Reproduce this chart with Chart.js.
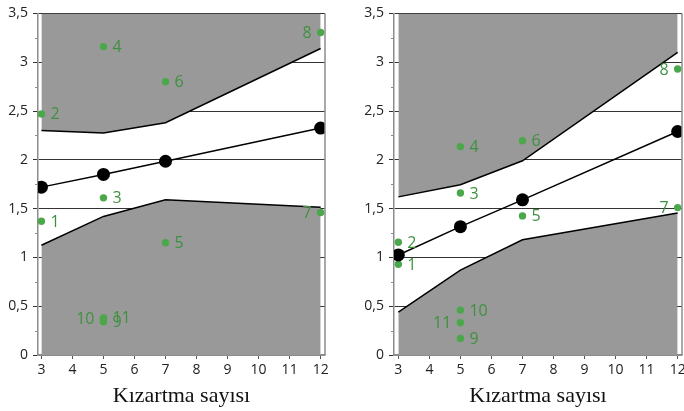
<!DOCTYPE html>
<html lang="tr">
<head>
<meta charset="UTF-8">
<title>Kızartma sayısı</title>
<script src="https://cdn.jsdelivr.net/npm/chart.js@4.4.1/dist/chart.umd.min.js"></script>
<style>
  body { margin: 0; background: #fff; }
  canvas { position: absolute; top: 0; }
  #left { left: 0; }
  #right { left: 340px; }
</style>
</head>
<body>
<canvas id="left" width="340" height="411"></canvas>
<canvas id="right" width="344" height="411"></canvas>
<script>
// ortak
const xVals = [3, 5, 7, 12];
const xTicks = [3, 4, 5, 6, 7, 8, 9, 10, 11, 12];
const pointNames = ['1', '2', '3', '4', '5', '6', '7', '8', '9', '10', '11'];
const pointX = [3, 3, 5, 5, 7, 7, 12, 12, 5, 5, 5];

// sol grafik
const leftMean = [1.72, 1.85, 1.985, 2.325];
const leftUpper = [2.30, 2.275, 2.38, 3.14];
const leftLower = [1.125, 1.42, 1.59, 1.515];
const leftPoints = [1.37, 2.47, 1.61, 3.16, 1.15, 2.80, 1.46, 3.305, 0.34, 0.375, 0.38];
const leftLabelsOnLeft = ['7', '8', '10'];

// sağ grafik
const rightMean = [1.025, 1.315, 1.59, 2.29];
const rightUpper = [1.62, 1.745, 1.99, 3.10];
const rightLower = [0.44, 0.87, 1.18, 1.455];
const rightPoints = [0.93, 1.155, 1.66, 2.135, 1.425, 2.195, 1.51, 2.93, 0.17, 0.46, 0.33];
const rightLabelsOnLeft = ['7', '8', '11'];

const GREEN = '#4aa84a';
const GREEN_TEXT = '#3f9140';
const GREY_FILL = '#999999';
const AXIS = '#8c8c8c';
const GRID = '#333333';

const xy = (xs, ys) => xs.map((x, i) => ({ x: x, y: ys[i] }));

const pointLabels = {
  id: 'pointLabels',
  afterDraw(chart, args, opts) {
    const ctx = chart.ctx;
    const meta = chart.getDatasetMeta(3);
    ctx.save();
    ctx.font = '16px "Open Sans"';
    ctx.fillStyle = GREEN_TEXT;
    ctx.textBaseline = 'middle';
    meta.data.forEach((el, i) => {
      const name = pointNames[i];
      if (opts.leftSide.includes(name)) {
        ctx.textAlign = 'right';
        ctx.fillText(name, el.x - 9, el.y + 1);
      } else {
        ctx.textAlign = 'left';
        ctx.fillText(name, el.x + 9, el.y + 1);
      }
    });
    ctx.restore();
  }
};

const frame = {
  id: 'frame',
  afterDraw(chart) {
    const { ctx, chartArea, scales } = chart;
    ctx.save();
    ctx.strokeStyle = AXIS;
    ctx.lineWidth = 1.5;
    ctx.beginPath();
    ctx.moveTo(chartArea.right, chartArea.top);
    ctx.lineTo(chartArea.right, chartArea.bottom);
    ctx.stroke();
    // küçük çentikler
    ctx.lineWidth = 1;
    const y = scales.y;
    for (let v = 0.25; v < 3.5; v += 0.5) {
      const py = Math.round(y.getPixelForValue(v)) + 0.5;
      ctx.beginPath();
      ctx.moveTo(chartArea.left - 3, py);
      ctx.lineTo(chartArea.left, py);
      ctx.stroke();
    }
    ctx.restore();
  }
};

function makeChart(id, mean, upper, lower, pts, leftSide, yWidth, padRight, xMin, xMax) {
  new Chart(document.getElementById(id), {
    type: 'line',
    data: {
      datasets: [
        {
          data: xy(xVals, upper), borderColor: '#000', borderWidth: 1.5,
          backgroundColor: GREY_FILL, fill: 'end', pointRadius: 0, order: 5
        },
        {
          data: xy(xVals, lower), borderColor: '#000', borderWidth: 1.5,
          backgroundColor: GREY_FILL, fill: 'start', pointRadius: 0, order: 4
        },
        {
          data: xy(xVals, mean), borderColor: '#000', borderWidth: 1.5,
          pointRadius: 6.5, pointBackgroundColor: '#000', pointBorderWidth: 0, order: 1
        },
        {
          data: xy(pointX, pts), showLine: false, pointRadius: 3.7,
          pointBackgroundColor: GREEN, pointBorderWidth: 0, order: 2
        }
      ]
    },
    options: {
      responsive: false,
      animation: false,
      layout: { autoPadding: false, padding: { top: 12, right: padRight, left: 0, bottom: 0 } },
      plugins: {
        legend: { display: false },
        tooltip: { enabled: false },
        pointLabels: { leftSide: leftSide }
      },
      scales: {
        x: {
          type: 'linear', min: xMin, max: xMax, z: 1,
          afterBuildTicks: s => { s.ticks = xTicks.map(v => ({ value: v })); },
          afterFit: s => { s.height = 56; s.paddingLeft = 0; s.paddingRight = 0; },
          border: { color: AXIS, width: 1.5 },
          grid: { drawOnChartArea: false, color: '#555', tickLength: 4 },
          ticks: { color: '#222', font: { family: 'Open Sans', size: 14 }, padding: 3, maxRotation: 0 },
          title: {
            display: true, text: 'Kızartma sayısı', color: '#111',
            font: { family: 'Liberation Serif', size: 22 }, padding: { top: 0, bottom: 2 }
          }
        },
        y: {
          min: 0, max: 3.5, z: 1,
          afterBuildTicks: s => {
            const t = [];
            for (let v = 0; v <= 3.5; v += 0.5) t.push({ value: v });
            s.ticks = t;
          },
          afterFit: s => { s.width = yWidth; },
          border: { color: AXIS, width: 1.5 },
          grid: {
            color: c => c.tick.value === 0 ? AXIS : GRID,
            tickColor: GRID, tickLength: 5, lineWidth: 1
          },
          ticks: {
            color: '#222', font: { family: 'Open Sans', size: 14 }, padding: 5,
            callback: v => String(v).replace('.', ',')
          }
        }
      }
    },
    plugins: [pointLabels, frame]
  });
}

makeChart('left', leftMean, leftUpper, leftLower, leftPoints, leftLabelsOnLeft, 38, 15, 2.89, 12.14);
makeChart('right', rightMean, rightUpper, rightLower, rightPoints, rightLabelsOnLeft, 54, 2, 2.86, 12.14);
</script>
</body>
</html>
